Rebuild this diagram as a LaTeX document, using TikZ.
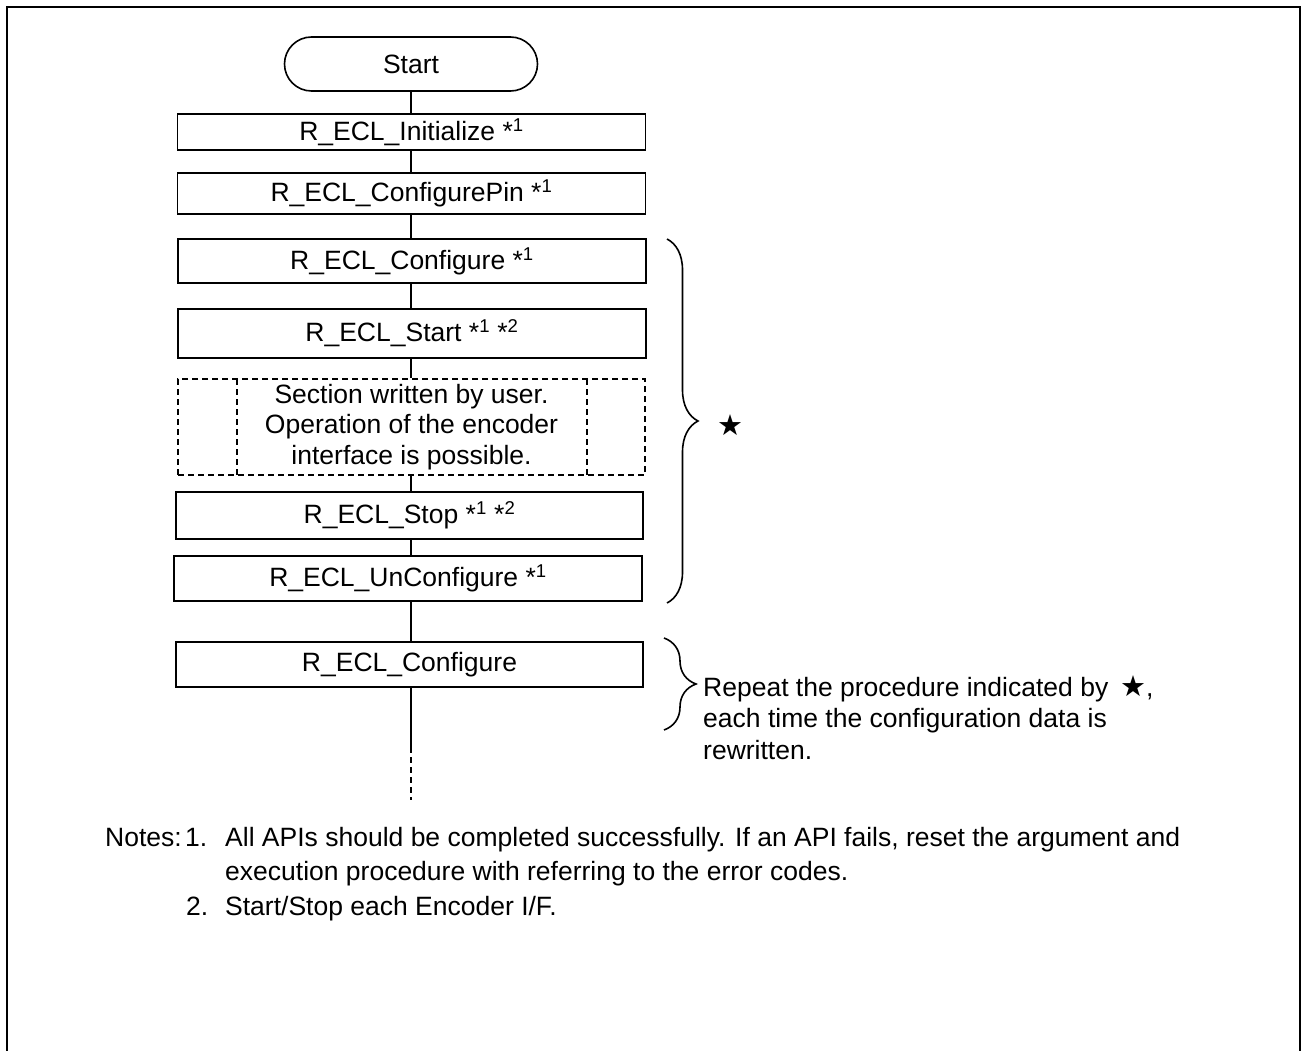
\documentclass[tikz,border=0pt]{standalone}
\usepackage{fontspec}
\setmainfont{Liberation Sans}
\newfontfamily\symfont{DejaVu Sans}
\usetikzlibrary{shapes.misc,decorations.pathreplacing}
\newcommand\boxfont{\fontsize{26.5}{30.5}\selectfont}
\newcommand\notefont{\fontsize{26.5}{34}\selectfont}
\newcommand\supnum[1]{\textsuperscript{#1}}
\begin{document}
\begin{tikzpicture}[x=1pt,y=-1pt,
  box/.style={draw,line width=1.6pt,minimum width=468pt,minimum height=#1,inner sep=0pt,font=\boxfont},
  dbox/.style={draw,line width=1.6pt,dash pattern=on 6pt off 4pt,minimum width=467pt,minimum height=96pt,inner sep=0pt,font=\boxfont,align=center},
  conn/.style={line width=1.6pt},
  dconn/.style={line width=1.6pt,dash pattern=on 6pt off 4pt},
  bracestyle/.style={line width=1.6pt,decorate,decoration={brace,amplitude=#1}},
  txt/.style={font=\boxfont,inner sep=0pt,anchor=base west},
  note/.style={font=\notefont,inner sep=0pt,anchor=base west}]
\useasboundingbox (0,0) rectangle (1301,1051);
\fill[white] (0,0) rectangle (1301,1051);
\draw[line width=2.2pt] (7,1051) -- (7,7) -- (1300,7) -- (1300,1051);

\node[draw,line width=1.6pt,rounded rectangle,minimum width=253pt,minimum height=54pt,inner sep=0pt,font=\boxfont] (start) at (411,64) {Start};
\node[box=36pt] (init) at (411.5,132) {R\_ECL\_Initialize *\supnum{1}};
\node[box=41pt] (pin) at (411.5,193.5) {R\_ECL\_ConfigurePin *\supnum{1}};
\node[box=44pt] (conf1) at (412,261) {R\_ECL\_Configure *\supnum{1}};
\node[box=49pt] (st) at (412,333.5) {R\_ECL\_Start *\supnum{1} *\supnum{2}};
\node[dbox] (user) at (411.5,427) {Section written by user.\\Operation of the encoder\\interface is possible.};
\draw[dconn] (237,379) -- (237,475) (587,379) -- (587,475);
\node[box=47pt,minimum width=467pt] (stop) at (409.5,515.5) {R\_ECL\_Stop *\supnum{1} *\supnum{2}};
\node[box=45pt] (uncfg) at (408,578.5) {R\_ECL\_UnConfigure *\supnum{1}};
\node[box=45pt,minimum width=467pt] (conf2) at (409.5,664.5) {R\_ECL\_Configure};

\coordinate (solidend) at (411,747);
\coordinate (dashend) at (411,800);

\draw[conn] (start.south) -- (start.south |- init.north);
\draw[conn] (start.south |- init.south) -- (start.south |- pin.north);
\draw[conn] (start.south |- pin.south) -- (start.south |- conf1.north);
\draw[conn] (start.south |- conf1.south) -- (start.south |- st.north);
\draw[conn] (start.south |- st.south) -- (start.south |- user.north);
\draw[conn] (start.south |- user.south) -- (start.south |- stop.north);
\draw[conn] (start.south |- stop.south) -- (start.south |- uncfg.north);
\draw[conn] (start.south |- uncfg.south) -- (start.south |- conf2.north);
\draw[conn] (start.south |- conf2.south) -- (solidend);
\draw[dconn] (solidend) -- (dashend);

\coordinate (b1top) at (667,239);
\coordinate (b1bot) at (667,603);
\draw[bracestyle=31pt] (b1top) -- (b1bot);
\node[inner sep=0pt,font=\symfont\fontsize{29}{29}\selectfont] (star) at (730,425) {★};

\coordinate (b2top) at (664,638);
\coordinate (b2bot) at (664,730);
\draw[bracestyle=32pt] (b2top) -- (b2bot);
\node[txt] (rep1) at (703,696) {Repeat the procedure indicated by \,{\symfont\fontsize{29}{29}\selectfont ★},};
\node[txt] (rep2) at (703,727.5) {each time the configuration data is};
\node[txt] (rep3) at (703,759) {rewritten.};

\node[note] (n0) at (105,846) {Notes:};
\node[note] (n1) at (185,846) {1.};
\node[note] (n1a) at (225,846) {All APIs should be completed successfully. If an API fails, reset the argument and};
\node[note] (n1b) at (225,880.5) {execution procedure with referring to the error codes.};
\node[note] (n2) at (186,915) {2.};
\node[note] (n2a) at (225,915) {Start/Stop each Encoder I/F.};
\end{tikzpicture}
\end{document}
